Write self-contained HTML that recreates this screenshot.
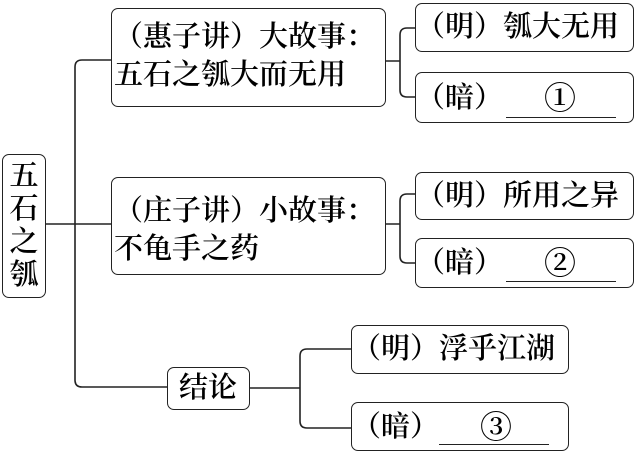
<!DOCTYPE html>
<html><head><meta charset="utf-8"><style>
body{margin:0;width:639px;height:454px;background:#fff;overflow:hidden;position:relative;font-family:"Liberation Serif","Noto Serif CJK SC",serif;color:#000}
.b{position:absolute;border:1.8px solid #222;border-radius:7px;box-sizing:border-box;font-size:29px;font-weight:600;line-height:38px;white-space:nowrap;letter-spacing:0}
.u{position:absolute;border-top:1.6px solid #222}
.n{position:absolute;left:128px;font-size:32px}
svg{position:absolute;left:0;top:0}
</style></head><body>
<svg width="639" height="454" fill="none" stroke="#222" stroke-width="1.6">
<path d="M46 224H111"/>
<path d="M111 60H82Q75 60 75 67V380Q75 387 82 387H167"/>
<path d="M386 61H400M407 28Q400 28 400 35V90Q400 97 407 97H415M407 28H415"/>
<path d="M386 224H400M407 194Q400 194 400 201V256Q400 263 407 263H415M407 194H415"/>
<path d="M250 388H300M351 349H307Q300 349 300 356V421Q300 428 307 428H351"/>
</svg>
<div class="b" style="left:2px;top:154px;width:44px;height:144px;text-align:center;padding-top:5px;line-height:33px">五<br>石<br>之<br>瓠</div>
<div class="b" style="left:111px;top:8px;width:275px;height:99px;padding:9px 0 0 2px">（惠子讲）大故事：<br>五石之瓠大而无用</div>
<div class="b" style="left:415px;top:3px;width:219px;height:49px;padding:4px 0 0 0">（明）瓠大无用</div>
<div class="b" style="left:415px;top:72px;width:219px;height:51px;padding:6px 0 0 0">（暗）<span class="n">①</span></div>
<div class="u" style="left:506px;top:117px;width:110px"></div>
<div class="b" style="left:111px;top:177px;width:275px;height:98px;padding:14px 0 0 2px">（庄子讲）小故事：<br>不龟手之药</div>
<div class="b" style="left:415px;top:172px;width:219px;height:48px;padding:4px 0 0 0">（明）所用之异</div>
<div class="b" style="left:415px;top:238px;width:219px;height:50px;padding:5px 0 0 0">（暗）<span class="n">②</span></div>
<div class="u" style="left:506px;top:281px;width:110px"></div>
<div class="b" style="left:167px;top:367px;width:83px;height:43px;padding:1px 0 0 11px">结论</div>
<div class="b" style="left:351px;top:325px;width:218px;height:49px;padding:4px 0 0 0">（明）浮乎江湖</div>
<div class="b" style="left:351px;top:402px;width:218px;height:49px;padding:5px 0 0 0">（暗）<span class="n">③</span></div>
<div class="u" style="left:439px;top:444px;width:110px"></div>
</body></html>
